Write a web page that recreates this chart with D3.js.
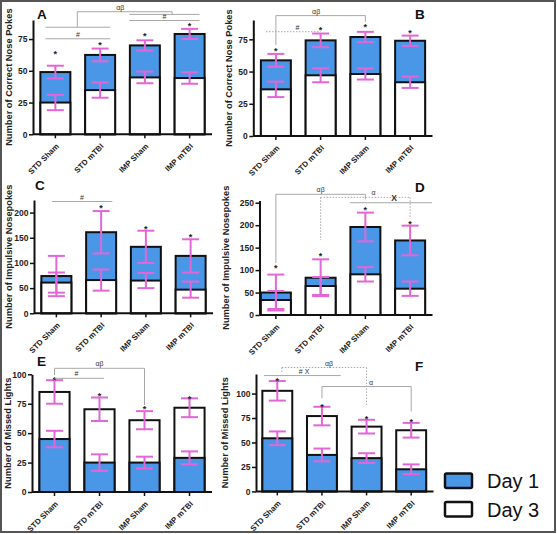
<!DOCTYPE html>
<html><head><meta charset="utf-8">
<script src="https://cdn.jsdelivr.net/npm/d3@7"></script>
<style>
html,body{margin:0;padding:0;background:#fff;}
svg{display:block;}
text{font-family:"Liberation Sans",Arial,sans-serif;}
</style></head>
<body>
<svg id="chart" width="557" height="534"></svg>
<script>
const categories = ["STD Sham", "STD mTBI", "IMP Sham", "IMP mTBI"];
const panelNames = ["A", "B", "C", "D", "E", "F"];
const yTitles = ["Number of Correct Nose Pokes", "Number of Correct Nose Pokes",
  "Number of Impulsive Nosepokes", "Number of Impulsive Nosepokes",
  "Number of Missed Lights", "Number of Missed Lights"];
const yMax = [90, 90, 225, 255, 100, 120];
const yTickVals = [[0, 25, 50, 75], [0, 25, 50, 75], [0, 50, 100, 150, 200],
  [0, 50, 100, 150, 200, 250], [0, 25, 50, 75, 100], [0, 25, 50, 75, 100]];
const day1 = [[49, 62.5, 70, 79], [58.7, 74.2, 76.8, 73.9], [74, 161, 132, 114],
  [50, 83, 196, 166], [45, 25, 25, 29], [54.3, 37.3, 34, 22.6]];
const day3 = [[25, 34.8, 44.8, 44.3], [36.2, 47.1, 48.1, 41.7], [61, 66, 65, 47],
  [33.4, 64.6, 90.6, 58.6], [85, 70.3, 61, 71.6], [102.8, 77, 66.2, 62.5]];
const err1 = [[5, 5, 4, 4], [5, 5.3, 4, 4], [40, 42, 32, 33], [40, 41, 32, 33],
  [7, 7, 5, 5.5], [7, 6.5, 5, 5]];
const err3 = [[6, 6, 4.6, 4.5], [6, 5.4, 4.3, 4.4], [20, 21, 15, 16], [20, 20, 16, 16],
  [10, 10, 7.7, 8], [10, 9.5, 7, 7.5]];
const stars = [[65, 72, 79, 86.5], [67.5, 84, 86, 81.5], [null, 213, 171, 155],
  [109, 136, 238, 208], [96.6, 83, 72, 80.4], [114.7, 88.4, 76.5, 73.1]];
// significance brackets: from/to in category-index units, levels in data units
const brackets = [
  [{from: -0.22, to: 1.23, y: 84.3},
   {from: -0.22, to: 1.23, y: 75.2, label: "#"},
   {from: 1.65, to: 3.22, y: 94.4},
   {from: 1.65, to: 3.22, y: 89.6, label: "#"},
   {from: 0.49, to: 2.61, y: 96.5, dropL: 84.3, dropR: 94.4, label: "αβ", at: 1.45}],
  [{from: 0, to: 2, y: 93.4, dropL: 70.6, dropR: 88.7, label: "αβ", at: 0.9},
   {from: -0.22, to: 1, y: 80.9, label: "#", at: 0.48, dashed: true}],
  [{from: -0.1, to: 1.25, y: 222, label: "#", at: 0.57}],
  [{from: 0, to: 2, y: 268.8, dropL: 115.8, dropR: 258, label: "αβ"},
   {from: 1, to: 3, y: 262, dropL: 167, dropR: 215, label: "α", at: 2.18, dashed: true},
   {from: 1.65, to: 3.49, y: 250, label: "X", at: 2.64}],
  [{from: 0, to: 2, y: 105.1, dropL: 99.4, dropR: 73.9, label: "αβ"},
   {from: 0, to: 1.1, y: 96.6, label: "#", at: 0.49}],
  [{from: 0.1, to: 2, y: 126.6, dropL: 120.9, dropR: 88.4, label: "αβ", at: 1.16, dashed: true},
   {from: -0.3, to: 1.42, y: 118.4, label: "# X", at: 0.6},
   {from: 1, to: 3, y: 107.2, dropL: 95.3, dropR: 81.6, label: "α", at: 2.1}]
];
const legendLabels = ["Day 1", "Day 3"];

const BLUE = "#4a97e8", PINK = "#e366d9", GRAY = "#a8a8a8";
const layout = [
  {ax: 33, x0: 33, x1: 212, y0: 134.3, y1: 20, tx: 12.3, lx: 37, ly: 19},
  {ax: 253.3, x0: 253.5, x1: 432.5, y0: 136, y1: 20, tx: 231.6, lx: 415, ly: 18.5},
  {ax: 34, x0: 34, x1: 213, y0: 313.3, y1: 200, tx: 11.5, lx: 35, ly: 190},
  {ax: 259.5, x0: 253.5, x1: 432.5, y0: 315, y1: 200.5, tx: 228.5, lx: 415, ly: 191.5},
  {ax: 32, x0: 32, x1: 212, y0: 492, y1: 374.3, tx: 10.5, lx: 37, ly: 366},
  {ax: 256, x0: 255, x1: 433.5, y0: 491.4, y1: 374, tx: 227.5, lx: 415, ly: 371}
];

const svg = d3.select("#chart");
svg.append("rect").attr("x", 1).attr("y", 1).attr("width", 554).attr("height", 531)
  .attr("fill", "#fff").attr("stroke", "#555").attr("stroke-width", 2);

panelNames.forEach((name, p) => {
  const L = layout[p];
  const g = svg.append("g");
  const x = d3.scaleBand().domain(categories).range([L.x0, L.x1])
    .paddingInner(0.33).paddingOuter(0.165);
  const y = d3.scaleLinear().domain([0, yMax[p]]).range([L.y0, L.y1]);
  const cx = i => x(categories[0]) + x.bandwidth() / 2 + i * x.step();

  // bars: the taller one drawn behind, the shorter in front
  categories.forEach((c, i) => {
    const segs = [{v: day1[p][i], fill: BLUE}, {v: day3[p][i], fill: "#fff"}]
      .sort((a, b) => b.v - a.v);
    segs.forEach(s => {
      g.append("rect").attr("x", x(c)).attr("width", x.bandwidth())
        .attr("y", y(s.v)).attr("height", y(0) - y(s.v))
        .attr("fill", s.fill).attr("stroke", "#111").attr("stroke-width", 2);
    });
  });
  // error bars
  categories.forEach((c, i) => {
    [[day1[p][i], err1[p][i]], [day3[p][i], err3[p][i]]].forEach(([v, e]) => {
      const xc = x(c) + x.bandwidth() / 2, hw = 8.5;
      const eg = g.append("g").attr("stroke", PINK).attr("stroke-width", 2).attr("fill", "none");
      eg.append("line").attr("x1", xc).attr("x2", xc).attr("y1", y(v - e)).attr("y2", y(v + e));
      eg.append("line").attr("x1", xc - hw).attr("x2", xc + hw).attr("y1", y(v + e)).attr("y2", y(v + e));
      eg.append("line").attr("x1", xc - hw).attr("x2", xc + hw).attr("y1", y(v - e)).attr("y2", y(v - e));
    });
    if (stars[p][i] != null) {
      g.append("text").attr("x", x(c) + x.bandwidth() / 2).attr("y", y(stars[p][i]) + 5)
        .attr("text-anchor", "middle").attr("font-size", 9).attr("font-weight", "bold")
        .attr("fill", "#222").text("*");
    }
  });
  // brackets
  brackets[p].forEach(b => {
    const bg = g.append("g").attr("stroke", GRAY).attr("stroke-width", 1).attr("fill", "none");
    if (b.dashed) bg.attr("stroke-dasharray", "1.5,1.5");
    bg.append("line").attr("x1", cx(b.from)).attr("x2", cx(b.to)).attr("y1", y(b.y)).attr("y2", y(b.y));
    if (b.dropL != null) bg.append("line").attr("x1", cx(b.from)).attr("x2", cx(b.from))
      .attr("y1", y(b.y)).attr("y2", y(b.dropL));
    if (b.dropR != null) bg.append("line").attr("x1", cx(b.to)).attr("x2", cx(b.to))
      .attr("y1", y(b.y)).attr("y2", y(b.dropR));
    if (b.label) {
      g.append("text").attr("x", cx(b.at != null ? b.at : (b.from + b.to) / 2)).attr("y", y(b.y) - 2)
        .attr("text-anchor", "middle").attr("font-size", b.label === "X" ? 8.5 : 7)
        .attr("fill", "#333").attr("font-weight", b.label === "X" ? "bold" : "normal").text(b.label);
    }
  });
  // axes
  const ya = g.append("g").attr("transform", `translate(${L.ax},0)`)
    .call(d3.axisLeft(y).tickValues(yTickVals[p]).tickSize(4).tickSizeOuter(0).tickPadding(1.5));
  ya.select(".domain").attr("stroke", "#111").attr("stroke-width", 2);
  ya.selectAll(".tick line").attr("stroke", "#111").attr("stroke-width", 1.5);
  ya.selectAll(".tick text").attr("font-size", 8.5).attr("font-weight", "bold").attr("fill", "#222")
    .style("font-family", "'Liberation Sans',Arial,sans-serif");
  const xa = g.append("g").attr("transform", `translate(0,${L.y0})`)
    .call(d3.axisBottom(x).tickSize(4).tickSizeOuter(0).tickFormat(""));
  xa.select(".domain").remove();
  xa.selectAll(".tick line").attr("stroke", "#111").attr("stroke-width", 1.5);
  xa.append("line").attr("x1", L.ax).attr("x2", L.x1).attr("y1", 0).attr("y2", 0)
    .attr("stroke", "#111").attr("stroke-width", 2);
  categories.forEach(c => {
    const tx = x(c) + x.bandwidth() / 2 + 4, ty = L.y0 + 12.5;
    g.append("text").attr("transform", `translate(${tx},${ty}) rotate(-45)`)
      .attr("text-anchor", "end").attr("font-size", 7.9).attr("font-weight", "bold")
      .attr("fill", "#222").text(c);
  });
  // y title
  g.append("text").attr("transform", `translate(${L.tx},${(L.y0 + L.y1) / 2}) rotate(-90)`)
    .attr("text-anchor", "middle").attr("font-size", 9.3).attr("font-weight", "bold")
    .attr("fill", "#222").text(yTitles[p]);
  // panel letter
  g.append("text").attr("x", L.lx).attr("y", L.ly).attr("font-size", 13.5)
    .attr("font-weight", "bold").attr("fill", "#111").text(name);
});

// legend
const lg = svg.append("g");
legendLabels.forEach((lab, i) => {
  lg.append("rect").attr("x", 445).attr("y", 473.5 + i * 28.5).attr("width", 27).attr("height", 14.5)
    .attr("rx", 1.5).attr("fill", i === 0 ? BLUE : "#fff").attr("stroke", "#111").attr("stroke-width", 2.5);
  lg.append("text").attr("x", 487).attr("y", 488 + i * 28.5).attr("font-size", 20)
    .attr("fill", "#111").text(lab);
});
</script>
</body></html>
